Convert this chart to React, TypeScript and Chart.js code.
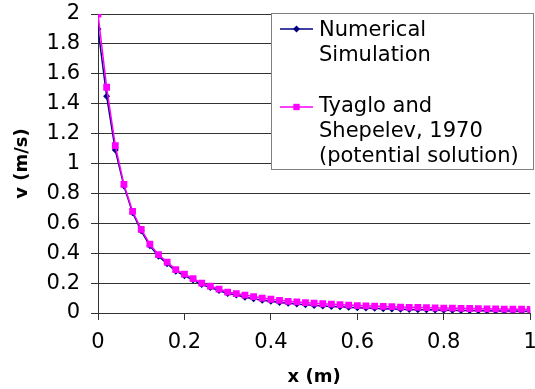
import React, { useEffect, useRef } from "react";
import { Chart, registerables } from "chart.js";

Chart.register(...registerables);

const xValues = [
  0, 0.02, 0.04, 0.06, 0.08, 0.1, 0.12, 0.14, 0.16, 0.18,
  0.2, 0.22, 0.24, 0.26, 0.28, 0.3, 0.32, 0.34, 0.36, 0.38,
  0.4, 0.42, 0.44, 0.46, 0.48, 0.5, 0.52, 0.54, 0.56, 0.58,
  0.6, 0.62, 0.64, 0.66, 0.68, 0.7, 0.72, 0.74, 0.76, 0.78,
  0.8, 0.82, 0.84, 0.86, 0.88, 0.9, 0.92, 0.94, 0.96, 0.98, 1.0,
];

const numericalValues = [
  1.9, 1.45, 1.09, 0.85, 0.67, 0.55, 0.45, 0.38, 0.33, 0.28,
  0.25, 0.22, 0.19, 0.17, 0.15, 0.13, 0.12, 0.105, 0.095, 0.085,
  0.078, 0.071, 0.065, 0.06, 0.055, 0.051, 0.047, 0.044, 0.041, 0.038,
  0.035, 0.033, 0.031, 0.029, 0.027, 0.025, 0.024, 0.022, 0.021, 0.02,
  0.019, 0.018, 0.017, 0.016, 0.015, 0.015, 0.014, 0.013, 0.013, 0.012, 0.012,
];

const potentialValues = [
  2.0, 1.51, 1.12, 0.86, 0.68, 0.56, 0.46, 0.39, 0.34, 0.29,
  0.26, 0.23, 0.2, 0.18, 0.16, 0.14, 0.13, 0.12, 0.11, 0.1,
  0.092, 0.085, 0.078, 0.074, 0.07, 0.066, 0.062, 0.059, 0.056, 0.053,
  0.05, 0.048, 0.046, 0.044, 0.042, 0.04, 0.038, 0.037, 0.036, 0.034,
  0.033, 0.032, 0.031, 0.03, 0.029, 0.028, 0.027, 0.026, 0.025, 0.025, 0.024,
];

const xTicks = [0, 0.2, 0.4, 0.6, 0.8, 1];
const yTicks = [0, 0.2, 0.4, 0.6, 0.8, 1, 1.2, 1.4, 1.6, 1.8, 2];

const seriesLabels = [
  ["Numerical", "Simulation"],
  ["Tyaglo and", "Shepelev, 1970", "(potential solution)"],
];
const xTitle = "x (m)";
const yTitle = "v (m/s)";

const NAVY = "#000080";
const MAGENTA = "#FF00FF";
const FONT = "'DejaVu Sans', sans-serif";

const legendPlugin = {
  id: "boxLegend",
  afterDraw(chart: any) {
    const ctx = chart.ctx;
    ctx.save();
    const bx = 271.5, by = 13.5, bw = 262, bh = 156;
    ctx.fillStyle = "#ffffff";
    ctx.fillRect(bx, by, bw, bh);
    ctx.strokeStyle = "#808080";
    ctx.lineWidth = 1;
    ctx.strokeRect(bx, by, bw, bh);

    const items = [
      { color: NAVY, style: "rectRot", radius: 3.5, lines: seriesLabels[0], lineY: 29, baseline: 36 },
      { color: MAGENTA, style: "rect", radius: 4.5, lines: seriesLabels[1], lineY: 107, baseline: 112 },
    ];
    ctx.font = `21px ${FONT}`;
    ctx.textBaseline = "alphabetic";
    ctx.textAlign = "left";
    for (const it of items) {
      ctx.strokeStyle = it.color;
      ctx.lineWidth = 1.5;
      ctx.beginPath();
      ctx.moveTo(280, it.lineY);
      ctx.lineTo(313, it.lineY);
      ctx.stroke();
      ctx.fillStyle = it.color;
      ctx.beginPath();
      if (it.style === "rect") {
        const s = it.radius * Math.SQRT1_2;
        ctx.rect(296.5 - s, it.lineY - s, 2 * s, 2 * s);
      } else {
        const r = it.radius;
        ctx.moveTo(296.5, it.lineY - r);
        ctx.lineTo(296.5 + r, it.lineY);
        ctx.lineTo(296.5, it.lineY + r);
        ctx.lineTo(296.5 - r, it.lineY);
        ctx.closePath();
      }
      ctx.fill();
      ctx.fillStyle = "#000000";
      it.lines.forEach((t: string, i: number) => {
        ctx.fillText(t, 319, it.baseline + i * 25);
      });
    }
    ctx.restore();
  },
};

export default function App() {
  const canvasRef = useRef<HTMLCanvasElement | null>(null);

  useEffect(() => {
    if (!canvasRef.current) return;
    const chart = new Chart(canvasRef.current, {
      type: "line",
      data: {
        datasets: [
          {
            label: seriesLabels[0].join(" "),
            data: xValues.map((x, i) => ({ x, y: numericalValues[i] })),
            borderColor: NAVY,
            backgroundColor: NAVY,
            borderWidth: 1.5,
            pointStyle: "rectRot",
            pointRadius: 3.5,
            pointBorderWidth: 0,
            order: 1,
          },
          {
            label: seriesLabels[1].join(" "),
            data: xValues.map((x, i) => ({ x, y: potentialValues[i] })),
            borderColor: MAGENTA,
            backgroundColor: MAGENTA,
            borderWidth: 1.5,
            pointStyle: "rect",
            pointRadius: 4.8,
            pointBorderWidth: 0,
            order: 0,
          },
        ],
      },
      options: {
        animation: false,
        responsive: false,
        maintainAspectRatio: false,
        layout: { padding: { top: 14, right: 3, left: 0, bottom: 0 } },
        plugins: {
          legend: { display: false },
          tooltip: { enabled: false },
        },
        scales: {
          x: {
            type: "linear",
            min: 0,
            max: 1,
            afterBuildTicks: (scale: any) => {
              scale.ticks = xTicks.map((v) => ({ value: v }));
            },
            afterFit: (scale: any) => {
              scale.height = 76;
              scale.paddingLeft = 0;
              scale.paddingRight = 0;
            },
            grid: {
              drawOnChartArea: false,
              drawTicks: true,
              tickLength: 7,
              color: "#333333",
            },
            border: { display: true, color: "#333333", width: 1 },
            ticks: {
              color: "#000000",
              font: { family: FONT, size: 21 },
              padding: 10,
              maxRotation: 0,
              callback: (v: any) => String(v),
            },
            title: {
              display: true,
              text: xTitle,
              color: "#000000",
              font: { family: FONT, size: 18, weight: "bold" },
              padding: { top: 0, bottom: 1 },
            },
          },
          y: {
            type: "linear",
            min: 0,
            max: 2,
            afterBuildTicks: (scale: any) => {
              scale.ticks = yTicks.map((v) => ({ value: v }));
            },
            afterFit: (scale: any) => {
              scale.width = 98;
              scale.paddingTop = 0;
              scale.paddingBottom = 0;
            },
            grid: {
              drawOnChartArea: true,
              drawTicks: true,
              tickLength: 7,
              color: "#333333",
              lineWidth: 1,
            },
            border: { display: true, color: "#333333", width: 1 },
            ticks: {
              color: "#000000",
              font: { family: FONT, size: 21 },
              padding: 11,
              callback: (v: any) => String(v),
            },
            title: {
              display: true,
              text: yTitle,
              color: "#000000",
              font: { family: FONT, size: 18, weight: "bold" },
              padding: { top: 12, bottom: 0 },
            },
          },
        },
      },
      plugins: [legendPlugin],
    });
    return () => chart.destroy();
  }, []);

  return (
    <div style={{ position: "absolute", left: 0, top: 0, width: 535, height: 389, background: "#ffffff" }}>
      <canvas ref={canvasRef} width={535} height={389} style={{ display: "block" }} />
    </div>
  );
}
